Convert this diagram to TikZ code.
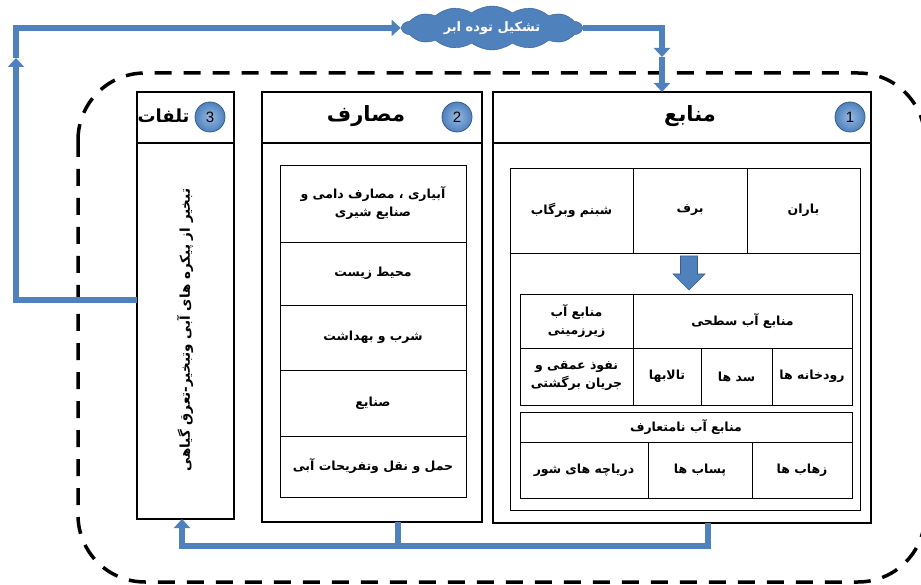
\documentclass[tikz,border=0pt]{standalone}
\usepackage{fontspec}
\usetikzlibrary{shapes,arrows.meta,positioning}
\newfontfamily\fa[Script=Arabic]{DejaVu Sans}
\newfontfamily\numfont{Liberation Sans}
\TeXXeTstate=1
\newcommand{\fat}[1]{\beginR #1\endR}
\definecolor{flowblue}{RGB}{79,129,189}
\definecolor{flowdark}{RGB}{56,93,138}
\definecolor{flowlight}{RGB}{150,185,225}
\tikzset{
  frame/.style={draw, line width=3.5pt, dash pattern=on 17pt off 12pt, rounded corners=67pt},
  headbox/.style={rectangle, draw, line width=1.3pt, minimum height=51pt, inner sep=0pt, outer sep=0pt},
  bodybox/.style={rectangle, draw, line width=1.3pt, inner sep=0pt, outer sep=0pt},
  cell/.style={rectangle, draw, line width=0.8pt, inner sep=2pt, align=center, font=\fa\bfseries\fontsize{12.5}{18}\selectfont},
  title/.style={font=\fa\bfseries\fontsize{21}{24}\selectfont},
  numball/.style={circle, draw=flowdark, line width=0.8pt, minimum size=30pt, inner sep=0pt, inner color=flowlight, outer color=flowblue, font=\numfont\fontsize{15}{15}\selectfont},
  flow/.style={draw=flowblue, line width=6pt, line join=miter},
  tip/.style={-{Triangle[width=16pt,length=9pt]}}
}
\begin{document}
\begin{tikzpicture}[x=1pt,y=-1pt]
\useasboundingbox (0,0) rectangle (921,585);
\draw[frame] (78,73) rectangle (925,582);

\node[cloud, cloud puffs=14, cloud puff arc=75, aspect=4, draw=flowdark, fill=flowblue, minimum width=180pt, minimum height=44pt, inner sep=0pt, text=white, font=\fa\bfseries\fontsize{13}{15}\selectfont](cloud) at (492,28){\fat{تشکیل توده ابر}};

\node[headbox, minimum width=378pt](srchead) at (682,117.5){};
\node[bodybox, minimum width=378pt, minimum height=380pt, below=0pt of srchead](src){};
\node[headbox, minimum width=220pt](usehead) at (372,117.5){};
\node[bodybox, minimum width=220pt, minimum height=379pt, below=0pt of usehead](usebody){};
\node[headbox, minimum width=97pt](losshead) at (185.5,117.5){};
\node[bodybox, minimum width=97pt, minimum height=376pt, below=0pt of losshead](lossbody){};

\node[title](srctitle) at (690,116){\fat{منابع}};
\node[title](usetitle) at (366,116){\fat{مصارف}};
\node[title, anchor=east, font=\fa\bfseries\fontsize{18}{22}\selectfont](losstitle) at (193,116){\fat{تلفات}};
\node[numball](n1) at (850,117){1};
\node[numball](n2) at (457,117){2};
\node[numball](n3) at (210,117){3};

\node[cell, minimum width=350pt, minimum height=257pt](lower) at (685,381.5){};
\node[cell, minimum width=123pt, minimum height=85pt](dew) at (571.5,210.5){\fat{شبنم وبرگاب}};
\node[cell, minimum width=114pt, minimum height=85pt](snow) at (690,210.5){\fat{برف}};
\node[cell, minimum width=113pt, minimum height=85pt](rain) at (803.5,210.5){\fat{باران}};
\draw[draw=flowdark, fill=flowblue, line width=0.6pt] (680.5,256)--(697.5,256)--(697.5,274)--(705,274)--(689,290)--(673,274)--(680.5,274)--cycle;

\node[cell, minimum width=113pt, minimum height=54pt](ground) at (576.5,321){\fat{منابع آب}\\\fat{زیرزمینی}};
\node[cell, minimum width=219pt, minimum height=54pt](surface) at (742.5,321){\fat{منابع آب سطحی}};
\node[cell, minimum width=113pt, minimum height=57pt](deep) at (576.5,376.5){\fat{نفوذ عمقی و}\\\fat{جریان برگشتی}};
\node[cell, minimum width=68pt, minimum height=57pt](wetland) at (667,376.5){\fat{تالابها}};
\node[cell, minimum width=71pt, minimum height=57pt](dam) at (736.5,376.5){\fat{سد ها}};
\node[cell, minimum width=80pt, minimum height=57pt](river) at (812,376.5){\fat{رودخانه ها}};

\node[cell, minimum width=332pt, minimum height=30pt](unconv) at (686,427){\fat{منابع آب نامتعارف}};
\node[cell, minimum width=128pt, minimum height=56pt](lake) at (584,470){\fat{دریاچه های شور}};
\node[cell, minimum width=104pt, minimum height=56pt](waste) at (700,470){\fat{پساب ها}};
\node[cell, minimum width=100pt, minimum height=56pt](drain) at (802,470){\fat{زهاب ها}};

\node[cell, minimum width=186pt, minimum height=77pt](agri) at (373,203.5){\fat{آبیاری ، مصارف دامی و}\\\fat{صنایع شیری}};
\node[cell, minimum width=186pt, minimum height=63pt](env) at (373,273.5){\fat{محیط زیست}};
\node[cell, minimum width=186pt, minimum height=65pt](drink) at (373,337.5){\fat{شرب و بهداشت}};
\node[cell, minimum width=186pt, minimum height=66pt](ind) at (373,403){\fat{صنایع}};
\node[cell, minimum width=186pt, minimum height=61pt](trans) at (373,466.5){\fat{حمل و نقل وتفریحات آبی}};

\node[rotate=90, font=\fa\bfseries\fontsize{13.5}{15}\selectfont](evap) at (185,330){\fat{تبخیر از پیکره های آبی وتبخیر-تعرق گیاهی}};

\coordinate(j1) at (662,57);
\coordinate(j2) at (16,58);
\coordinate(j3) at (16,300);
\coordinate(j4) at (708,546);
\coordinate(j5) at (182,546);
\coordinate(j6) at (398,546);
\path[flow, tip](lossbody.west |- j3)--(j3)--(j2);
\path[flow, tip](j2)|-(cloud.west);
\path[flow, tip](cloud.east)-|(j1);
\path[flow, tip](j1)--(j1 |- srchead.north);
\path[flow, tip](src.south -| j4)--(j4)--(j5)--(lossbody.south -| j5);
\path[flow](usebody.south -| j6)--(j6);
\end{tikzpicture}
\end{document}
